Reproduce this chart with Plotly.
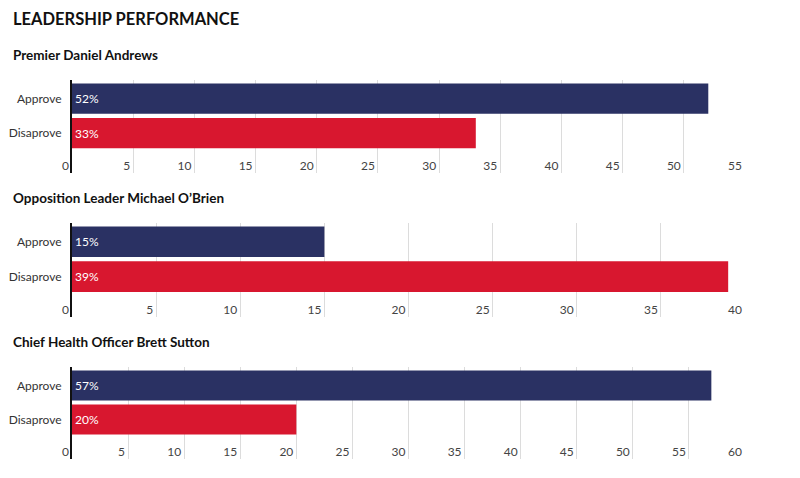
import plotly.graph_objects as go

# ---- data ----
categories = ["Approve", "Disaprove"]
leaders = ["Premier Daniel Andrews",
           "Opposition Leader Michael O\u2019Brien",
           "Chief Health Officer Brett Sutton"]
andrews = [52, 33]
obrien = [15, 39]
sutton = [57, 20]
series = [andrews, obrien, sutton]
axis_max = [55, 40, 60]
chart_title = "LEADERSHIP PERFORMANCE"

# ---- style ----
W, H = 800, 478
NAVY = "#2a3163"
RED = "#d8172f"
FONT = "Lato"
bar_colors = [NAVY, RED]

# panel plot-area extents in pixels (top, bottom)
panels_px = [(80, 173), (223, 317), (367, 459)]
title_y_px = [55, 198, 342]
x_left_px, x_right_px = 72, 745

def py(px):
    return 1 - px / H

fig = go.Figure()
for i, (vals, name) in enumerate(zip(series, leaders)):
    n = "" if i == 0 else str(i + 1)
    fig.add_trace(go.Bar(
        x=vals, y=categories, orientation="h",
        marker=dict(color=bar_colors, line=dict(width=0)),
        texttemplate="%{x}%", textposition="inside", insidetextanchor="start",
        textfont=dict(color="white", size=12, family=FONT),
        xaxis="x" + n, yaxis="y" + n, showlegend=False, hoverinfo="skip",
        cliponaxis=False,
    ))
    top, bot = panels_px[i]
    fig.update_layout(**{
        "xaxis" + n: dict(
            domain=[x_left_px / W, x_right_px / W], range=[0, axis_max[i]],
            dtick=5, tick0=0, showgrid=True, gridcolor="#dcdcdc", gridwidth=1,
            zeroline=False, showline=False, ticks="",
            ticklabelposition="inside left", ticklabeloverflow="allow",
            ticklabelstandoff=-5, ticklabelshift=-3,
            tickfont=dict(family=FONT, size=12, color="#444"),
            anchor="y" + n, fixedrange=True, automargin=False,
        ),
        "yaxis" + n: dict(
            domain=[py(bot), py(top)], type="category",
            categoryorder="array", categoryarray=categories,
            range=[2.16, -0.54], showgrid=False, zeroline=False,
            showline=True, linecolor="#111", linewidth=2, ticks="",
            tickfont=dict(family=FONT, size=12, color="#333"),
            ticklabelstandoff=6,
            anchor="x" + n, fixedrange=True, automargin=False,
        ),
    })
    fig.add_annotation(text="<b>" + name + "</b>", x=11 / W, y=py(title_y_px[i]),
                       xref="paper", yref="paper", xanchor="left", yanchor="middle",
                       showarrow=False, font=dict(family=FONT, size=13.5, color="#111"))

fig.add_annotation(text="<b>" + chart_title + "</b>", x=11 / W, y=py(19),
                   xref="paper", yref="paper", xanchor="left", yanchor="middle",
                   showarrow=False, font=dict(family=FONT, size=16.5, color="#111"))

fig.update_layout(
    width=W, height=H, margin=dict(l=0, r=0, t=0, b=0, pad=0),
    paper_bgcolor="white", plot_bgcolor="white",
    bargap=0.12, font=dict(family=FONT),
)
fig.write_html("out.html")
